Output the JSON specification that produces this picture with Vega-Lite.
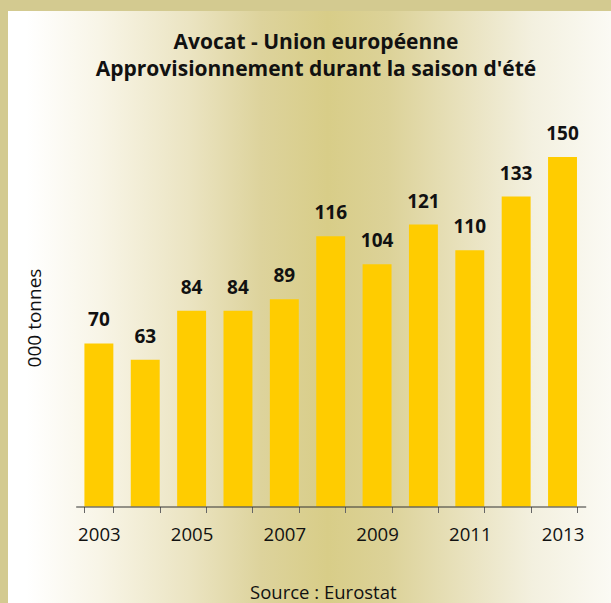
{
  "$schema": "https://vega.github.io/schema/vega-lite/v6.json",
  "width": 603,
  "height": 592,
  "autosize": {"type": "none"},
  "padding": {"left": 8, "top": 11, "right": 0, "bottom": 0},
  "background": "#d3ca90",
  "config": {"view": {"stroke": null}, "font": "Open Sans"},
  "title": {
    "text": ["Avocat - Union européenne", "Approvisionnement durant la saison d'été"],
    "font": "Open Sans",
    "fontSize": 21,
    "fontWeight": "bold",
    "color": "#111111",
    "anchor": "middle",
    "frame": "group",
    "dx": 6.5,
    "offset": -86,
    "baseline": "alphabetic",
    "lineHeight": 26.7,
    "zindex": 1
  },
  "data": {
    "values": [
      {"year": 2003, "value": 70},
      {"year": 2004, "value": 63},
      {"year": 2005, "value": 84},
      {"year": 2006, "value": 84},
      {"year": 2007, "value": 89},
      {"year": 2008, "value": 116},
      {"year": 2009, "value": 104},
      {"year": 2010, "value": 121},
      {"year": 2011, "value": 110},
      {"year": 2012, "value": 133},
      {"year": 2013, "value": 150}
    ]
  },
  "layer": [
    {
      "data": {"values": [{"bg": 1}]},
      "mark": {
        "type": "rect",
        "color": {
          "gradient": "linear",
          "x1": 0, "y1": 0, "x2": 1, "y2": 0,
          "stops": [
            {"offset": 0, "color": "#ffffff"},
            {"offset": 0.03, "color": "#ffffff"},
            {"offset": 0.15, "color": "#f8f5e7"},
            {"offset": 0.3, "color": "#ebe4c2"},
            {"offset": 0.42, "color": "#ddd39c"},
            {"offset": 0.53, "color": "#d8cd88"},
            {"offset": 0.63, "color": "#dcd298"},
            {"offset": 0.75, "color": "#e8e1bc"},
            {"offset": 0.87, "color": "#f3f0df"},
            {"offset": 1, "color": "#fbfaf4"}
          ]
        }
      },
      "encoding": {}
    },
    {
      "mark": {"type": "bar", "color": "#ffcc00"},
      "encoding": {
        "x": {
          "field": "year",
          "type": "ordinal",
          "scale": {"range": [67.7, 577.7], "paddingInner": 0.376, "paddingOuter": 0.188},
          "axis": {
            "title": "Source : Eurostat",
            "orient": "bottom",
            "offset": -96.5,
            "tickBand": "extent",
            "domainColor": "#333333",
            "domainWidth": 1,
            "tickColor": "#666666",
            "tickSize": 6,
            "tickWidth": 1,
            "labelAngle": 0,
            "labelFont": "Open Sans",
            "labelFontSize": 18.6,
            "labelColor": "#111111",
            "labelBaseline": "alphabetic",
            "labelPadding": 27.5,
            "labelExpr": "datum.value % 2 == 1 ? datum.label : ''",
            "titleFont": "Open Sans",
            "titleFontSize": 18.5,
            "titleFontWeight": "normal",
            "titleColor": "#111111",
            "titleBaseline": "alphabetic",
            "titleAlign": "center",
            "titleX": 314.8,
            "titleY": 91.8,
            "grid": false,
            "zindex": 1
          }
        },
        "y": {
          "field": "value",
          "type": "quantitative",
          "scale": {"domain": [0, 150], "range": [495.5, 146], "nice": false, "zero": true},
          "axis": {
            "title": "000 tonnes",
            "labels": false,
            "ticks": false,
            "domain": false,
            "grid": false,
            "titleFont": "Open Sans",
            "titleFontSize": 19,
            "titleFontWeight": "normal",
            "titleColor": "#111111",
            "titleAngle": -90,
            "titleAlign": "center",
            "titleBaseline": "middle",
            "titleX": 26.7,
            "titleY": 306.5,
            "zindex": 1
          }
        }
      }
    },
    {
      "mark": {
        "type": "text",
        "font": "Open Sans",
        "fontWeight": "bold",
        "fontSize": 19,
        "color": "#111111",
        "baseline": "alphabetic",
        "dy": -17
      },
      "encoding": {
        "x": {"field": "year", "type": "ordinal"},
        "y": {"field": "value", "type": "quantitative"},
        "text": {"field": "value", "type": "quantitative"}
      }
    }
  ]
}
